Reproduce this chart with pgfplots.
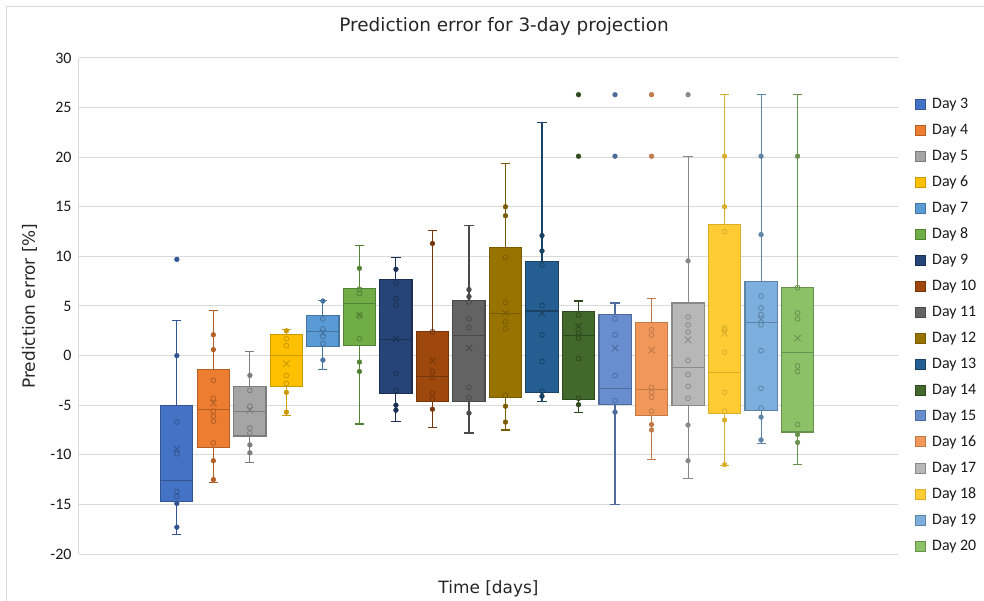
\documentclass[border=0pt]{standalone}
\usepackage{pgfplots}
\pgfplotsset{compat=1.18}
\usepgfplotslibrary{statistics}
\usepackage{fontspec}
\setmainfont{Carlito}
\newfontfamily\dejavu{DejaVu Sans}

\definecolor{c3}{HTML}{4472C4}
\definecolor{c4}{HTML}{ED7D31}
\definecolor{c5}{HTML}{A5A5A5}
\definecolor{c6}{HTML}{FFC000}
\definecolor{c7}{HTML}{5B9BD5}
\definecolor{c8}{HTML}{70AD47}
\definecolor{c9}{HTML}{264478}
\definecolor{c10}{HTML}{9E480E}
\definecolor{c11}{HTML}{636363}
\definecolor{c12}{HTML}{997300}
\definecolor{c13}{HTML}{255E91}
\definecolor{c14}{HTML}{43682B}
\definecolor{c15}{HTML}{698ED0}
\definecolor{c16}{HTML}{F1975A}
\definecolor{c17}{HTML}{B7B7B7}
\definecolor{c18}{HTML}{FFCD33}
\definecolor{c19}{HTML}{7CAFDD}
\definecolor{c20}{HTML}{8CC168}
\colorlet{e3}{c3!75!black}
\colorlet{e4}{c4!75!black}
\colorlet{e5}{c5!75!black}
\colorlet{e6}{c6!80!black}
\colorlet{e7}{c7!75!black}
\colorlet{e8}{c8!75!black}
\colorlet{e9}{c9!70!black}
\colorlet{e10}{c10!75!black}
\colorlet{e11}{c11!75!black}
\colorlet{e12}{c12!80!black}
\colorlet{e13}{c13!70!black}
\colorlet{e14}{c14!70!black}
\colorlet{e15}{c15!75!black}
\colorlet{e16}{c16!80!black}
\colorlet{e17}{c17!75!black}
\colorlet{e18}{c18!85!black}
\colorlet{e19}{c19!75!black}
\colorlet{e20}{c20!75!black}

% pos, fill, edge, lower whisker, lower quartile, median, upper quartile, upper whisker, mean
\newcommand{\dbox}[9]{%
  \addplot[forget plot, draw=#3, fill=#2, line width=1.1bp,
    boxplot prepared={draw position=#1, lower whisker=#4, lower quartile=#5,
      median=#6, upper quartile=#7, upper whisker=#8,
      box extend=0.88, whisker extend=0.25}] coordinates {};
  \addplot[forget plot, only marks, mark=x, mark size=4.5bp, draw=#3, line width=0.9bp] coordinates {(#1,#9)};
}
% hollow (inner) points
\newcommand{\hpts}[2]{%
  \addplot[forget plot, only marks, mark=o, mark size=2.4bp, draw=#1, line width=0.8bp] coordinates {#2};}
% filled points
\newcommand{\fpts}[2]{%
  \addplot[forget plot, only marks, mark=*, mark size=2.4bp, draw=#1, fill=#1] coordinates {#2};}
\newcommand{\lgent}[3]{\addlegendimage{fill=#1, draw=#2}\addlegendentry{\kern4bp #3}}

\begin{document}
\begin{tikzpicture}
\useasboundingbox (-79bp,-47bp) rectangle (905bp,554bp);
\draw[black!15, line width=1bp] (-72bp,-47bp) -- (-72bp,547bp) -- (905bp,547bp);
\begin{axis}[
  at={(0,0)}, anchor=south west,
  scale only axis, width=819bp, height=496bp,
  xmin=-2.68, xmax=19.75, ymin=-20, ymax=30,
  boxplot/draw direction=y,
  ytick={-20,-15,...,30}, xtick=\empty,
  axis lines*=left, separate axis lines,
  x axis line style={draw=none},
  y axis line style={draw=black!15, line width=1bp},
  ymajorgrids, grid style={draw=black!15, line width=1bp},
  major tick length=0pt,
  /pgf/number format/assume math mode=true,
  yticklabel style={font=\fontsize{16}{16}\selectfont, text=black!90, xshift=-4bp},
  title={Prediction error for 3-day projection},
  title style={font=\dejavu\fontsize{18.5}{20}\selectfont, text=black!85,
    at={(axis description cs:0.519,1)}, anchor=base, yshift=21bp},
  xlabel={Time [days]},
  xlabel style={font=\dejavu\fontsize{17}{18}\selectfont, text=black!85,
    at={(axis description cs:0.5,0)}, anchor=base, yshift=-39bp},
  ylabel={Prediction error [\%]},
  ylabel style={font=\dejavu\fontsize{17}{18}\selectfont, text=black!85,
    at={(axis description cs:-0.054,0.5)}, anchor=base},
  legend style={at={(axis description cs:1.021,0.923)}, anchor=north west,
    draw=none, fill=none, font=\fontsize{16}{16}\selectfont, text=black!90,
    row sep=10.1bp, inner sep=0pt},
  legend cell align=left,
  legend image code/.code={\draw[#1, line width=0.8bp] (0bp,-5bp) rectangle (10bp,5bp);},
]
\dbox{0}{c3}{e3}{-18}{-14.7}{-12.6}{-5.0}{3.5}{-9.4}
\hpts{e3}{(0,-6.7)(0,-9.9)(0,-13.7)(0,-14.2)}
\fpts{e3}{(0,9.7)(0,0)(0,-14.9)(0,-17.3)}

\dbox{1}{c4}{e4}{-12.8}{-9.3}{-5.4}{-1.4}{4.55}{-4.8}
\hpts{e4}{(1,-2.5)(1,-4.3)(1,-5.6)(1,-6.1)(1,-6.6)(1,-8.8)}
\fpts{e4}{(1,2.1)(1,0.6)(1,-10.6)(1,-12.5)}

\dbox{2}{c5}{e5}{-10.8}{-8.1}{-5.6}{-3.1}{0.4}{-5.5}
\hpts{e5}{(2,-3.5)(2,-5.1)(2,-7.3)(2,-7.8)}
\fpts{e5}{(2,-2.0)(2,-9.0)(2,-9.8)}

\dbox{3}{c6}{e6}{-6.0}{-3.1}{0.0}{2.1}{2.6}{-0.8}
\hpts{e6}{(3,1.7)(3,1.0)(3,-2.0)(3,-2.8)}
\fpts{e6}{(3,2.5)(3,-3.7)(3,-5.7)}

\dbox{4}{c7}{e7}{-1.4}{0.9}{2.4}{4.0}{5.55}{2.3}
\hpts{e7}{(4,3.7)(4,2.7)(4,1.9)(4,1.2)}
\fpts{e7}{(4,5.5)(4,-0.45)}

\dbox{5}{c8}{e8}{-6.9}{1.05}{5.25}{6.8}{11.1}{4.1}
\hpts{e8}{(5,6.7)(5,6.25)(5,4.0)(5,1.7)}
\fpts{e8}{(5,8.8)(5,-0.65)(5,-1.6)}

\dbox{6}{c9}{e9}{-6.6}{-3.8}{1.6}{7.67}{9.85}{1.7}
\hpts{e9}{(6,7.3)(6,5.75)(6,5.1)(6,-1.8)(6,-3.5)}
\fpts{e9}{(6,8.7)(6,-5.0)(6,-5.5)}

\dbox{7}{c10}{e10}{-7.25}{-4.6}{-2.1}{2.4}{12.6}{-0.5}
\hpts{e10}{(7,2.4)(7,-1.6)(7,-2.2)(7,-3.8)(7,-4.4)}
\fpts{e10}{(7,11.3)(7,-5.4)}

\dbox{8}{c11}{e11}{-7.8}{-4.6}{2.0}{5.55}{13.1}{0.75}
\hpts{e11}{(8,5.4)(8,3.7)(8,2.8)(8,-3.2)(8,-4.25)}
\fpts{e11}{(8,6.65)(8,5.95)(8,-5.8)}

\dbox{9}{c12}{e12}{-7.5}{-4.2}{4.25}{10.9}{19.4}{4.3}
\hpts{e12}{(9,9.9)(9,5.35)(9,3.4)(9,2.7)(9,-4.0)}
\fpts{e12}{(9,15.0)(9,14.1)(9,-5.1)(9,-6.7)}

\dbox{10}{c13}{e13}{-4.65}{-3.7}{4.5}{9.5}{23.5}{4.25}
\hpts{e13}{(10,9.15)(10,5.05)(10,2.1)(10,-0.6)(10,-3.6)}
\fpts{e13}{(10,12.1)(10,10.55)(10,-4.1)}

\dbox{11}{c14}{e14}{-5.7}{-4.4}{2.0}{4.45}{5.5}{2.95}
\hpts{e14}{(11,4.1)(11,2.3)(11,1.75)(11,-0.3)(11,-4.3)}
\fpts{e14}{(11,-4.95)(11,20.1)(11,26.3)}

\dbox{12}{c15}{e15}{-15.0}{-4.9}{-3.3}{4.1}{5.3}{0.75}
\hpts{e15}{(12,3.7)(12,2.1)(12,-2.0)(12,-4.55)}
\fpts{e15}{(12,-5.7)(12,20.1)(12,26.3)}

\dbox{13}{c16}{e16}{-10.5}{-6.0}{-3.4}{3.3}{5.75}{0.55}
\hpts{e16}{(13,2.6)(13,2.05)(13,-3.2)(13,-3.7)(13,-4.2)(13,-5.6)}
\fpts{e16}{(13,-6.95)(13,-7.5)(13,20.1)(13,26.3)}

\dbox{14}{c17}{e17}{-12.4}{-5.0}{-1.2}{5.3}{20.1}{1.6}
\hpts{e17}{(14,3.9)(14,3.1)(14,2.4)(14,-0.5)(14,-1.9)(14,-3.1)(14,-4.3)}
\fpts{e17}{(14,9.55)(14,-7.0)(14,-10.6)(14,26.3)}

\dbox{15}{c18}{e18}{-11.1}{-5.85}{-1.7}{13.2}{26.3}{2.25}
\hpts{e18}{(15,12.5)(15,2.8)(15,2.6)(15,0.35)(15,-3.7)(15,-5.6)}
\fpts{e18}{(15,20.1)(15,15.0)(15,-6.5)(15,-11.0)}

\dbox{16}{c19}{e19}{-8.9}{-5.5}{3.3}{7.5}{26.3}{3.65}
\hpts{e19}{(16,6.0)(16,4.8)(16,4.15)(16,3.1)(16,0.5)(16,-3.3)(16,-5.3)}
\fpts{e19}{(16,20.1)(16,12.2)(16,-6.2)(16,-8.5)}

\dbox{17}{c20}{e20}{-11.0}{-7.7}{0.3}{6.85}{26.3}{1.75}
\hpts{e20}{(17,6.85)(17,4.3)(17,3.7)(17,-1.05)(17,-1.6)(17,-6.95)}
\fpts{e20}{(17,20.1)(17,-7.95)(17,-8.75)}

\lgent{c3}{e3}{Day 3}
\lgent{c4}{e4}{Day 4}
\lgent{c5}{e5}{Day 5}
\lgent{c6}{e6}{Day 6}
\lgent{c7}{e7}{Day 7}
\lgent{c8}{e8}{Day 8}
\lgent{c9}{e9}{Day 9}
\lgent{c10}{e10}{Day 10}
\lgent{c11}{e11}{Day 11}
\lgent{c12}{e12}{Day 12}
\lgent{c13}{e13}{Day 13}
\lgent{c14}{e14}{Day 14}
\lgent{c15}{e15}{Day 15}
\lgent{c16}{e16}{Day 16}
\lgent{c17}{e17}{Day 17}
\lgent{c18}{e18}{Day 18}
\lgent{c19}{e19}{Day 19}
\lgent{c20}{e20}{Day 20}
\end{axis}
\end{tikzpicture}
\end{document}
